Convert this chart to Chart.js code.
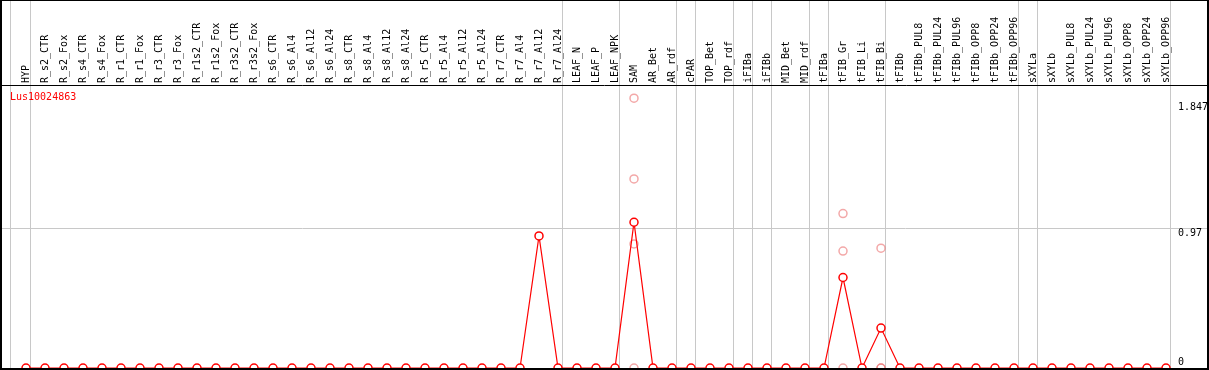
<!DOCTYPE html>
<html>
<head>
<meta charset="utf-8">
<script src="https://cdn.jsdelivr.net/npm/chart.js@4.4.1/dist/chart.umd.min.js"></script>
<style>
  html, body { margin: 0; padding: 0; background: #fff; }
  canvas { display: block; }
</style>
</head>
<body>
<canvas id="chart" width="1209" height="370"></canvas>
<script>
const geneName = 'Lus10024863';

const categories = [
  'HYP', 'R_s2_CTR', 'R_s2_Fox', 'R_s4_CTR', 'R_s4_Fox', 'R_r1_CTR', 'R_r1_Fox', 'R_r3_CTR', 'R_r3_Fox',
  'R_r1s2_CTR', 'R_r1s2_Fox', 'R_r3s2_CTR', 'R_r3s2_Fox', 'R_s6_CTR', 'R_s6_Al4', 'R_s6_Al12', 'R_s6_Al24',
  'R_s8_CTR', 'R_s8_Al4', 'R_s8_Al12', 'R_s8_Al24', 'R_r5_CTR', 'R_r5_Al4', 'R_r5_Al12', 'R_r5_Al24',
  'R_r7_CTR', 'R_r7_Al4', 'R_r7_Al12', 'R_r7_Al24', 'LEAF_N', 'LEAF_P', 'LEAF_NPK', 'SAM', 'AR_Bet', 'AR_rdf',
  'cPAR', 'TOP_Bet', 'TOP_rdf', 'iFIBa', 'iFIBb', 'MID_Bet', 'MID_rdf', 'tFIBa', 'tFIB_Gr', 'tFIB_Li', 'tFIB_Bi',
  'tFIBb', 'tFIBb_PUL8', 'tFIBb_PUL24', 'tFIBb_PUL96', 'tFIBb_OPP8', 'tFIBb_OPP24', 'tFIBb_OPP96',
  'sXYLa', 'sXYLb', 'sXYLb_PUL8', 'sXYLb_PUL24', 'sXYLb_PUL96', 'sXYLb_OPP8', 'sXYLb_OPP24', 'sXYLb_OPP96'
];

// mean expression per sample
const meanValues = [
  0, 0, 0, 0, 0, 0, 0, 0, 0,
  0, 0, 0, 0, 0, 0, 0, 0,
  0, 0, 0, 0, 0, 0, 0, 0,
  0, 0, 0.915, 0, 0, 0, 0, 1.01, 0, 0,
  0, 0, 0, 0, 0, 0, 0, 0, 0.627, 0, 0.277,
  0, 0, 0, 0, 0, 0, 0,
  0, 0, 0, 0, 0, 0, 0, 0
];

// individual replicates (only where they differ from the mean)
const samReps = [1.87, 1.31, 0.86, 0];
const tfibGrReps = [1.07, 0.81, 0];
const tfibBiReps = [0.83, 0, 0];

// last sample of each group -> grey separator after it
const groupEnds = ['HYP', 'R_r7_Al24', 'LEAF_NPK', 'AR_rdf', 'cPAR', 'TOP_rdf', 'iFIBa', 'iFIBb',
  'MID_rdf', 'tFIBa', 'tFIB_Bi', 'tFIBb_OPP96', 'sXYLa', 'sXYLb_OPP96'];

const yTickValues = [0, 0.97, 1.847];

const FONT = 'DejaVu Sans Mono';
const GRID = '#c8c8c8';

const repPoints = [];
[['SAM', samReps], ['tFIB_Gr', tfibGrReps], ['tFIB_Bi', tfibBiReps]].forEach(([name, reps]) => {
  const i = categories.indexOf(name);
  reps.forEach(v => repPoints.push({ x: i, y: v }));
});

const sepValues = [-0.84].concat(groupEnds.map(n => categories.indexOf(n) + 0.24));

new Chart(document.getElementById('chart'), {
  type: 'line',
  data: {
    datasets: [
      {
        label: geneName,
        data: meanValues.map((v, i) => ({ x: i, y: v })),
        borderColor: '#ff0000',
        borderWidth: 1.2,
        pointRadius: 4,
        pointBorderWidth: 1.5,
        pointBorderColor: '#ff0000',
        pointBackgroundColor: '#ffffff',
        tension: 0,
        order: 1
      },
      {
        type: 'scatter',
        label: 'replicates',
        data: repPoints,
        showLine: false,
        pointRadius: 4,
        pointBorderWidth: 1.5,
        pointBorderColor: 'rgba(235,110,110,0.6)',
        pointBackgroundColor: 'rgba(0,0,0,0)',
        order: 2
      }
    ]
  },
  options: {
    responsive: false,
    animation: false,
    devicePixelRatio: 1,
    layout: { autoPadding: false, padding: { left: 1, right: 0, top: 0, bottom: 2 } },
    plugins: { legend: { display: false }, tooltip: { enabled: false } },
    scales: {
      x: {
        type: 'linear',
        position: 'top',
        min: -1.316,
        max: 62.158,
        afterBuildTicks: s => {
          s.ticks = categories.map((c, i) => ({ value: i }))
            .concat(sepValues.map(v => ({ value: v })))
            .sort((a, b) => a.value - b.value);
        },
        afterFit: s => {
          s.height = 85;
          s.paddingLeft = 0;
          s.paddingRight = 0;
        },
        ticks: {
          autoSkip: false,
          minRotation: 90,
          maxRotation: 90,
          padding: -83,
          labelOffset: 12,
          color: '#000',
          font: { family: FONT, size: 10 },
          callback: v => Number.isInteger(v) ? categories[v] : ''
        },
        grid: {
          drawTicks: true,
          tickLength: 85,
          lineWidth: 1,
          color: c => (c.tick && !Number.isInteger(c.tick.value)) ? GRID : 'rgba(0,0,0,0)'
        },
        border: { display: true, color: '#000', width: 1 }
      },
      y: {
        type: 'linear',
        position: 'right',
        min: 0,
        max: 1.961,
        afterBuildTicks: s => {
          // grid line at 0.97, labels sit just below their value (0 just above)
          s.ticks = [{ value: 0.97, txt: '' }].concat(
            yTickValues.map(v => ({ value: v === 0 ? v + 0.042 : v - 0.038, txt: String(v) })));
        },
        afterTickToLabelConversion: s => { s.ticks.forEach(t => { t.label = t.txt; }); },
        afterFit: s => {
          s.width = 2;
          s.paddingTop = 0;
          s.paddingBottom = 0;
        },
        ticks: {
          mirror: true,
          crossAlign: 'far',
          padding: 1,
          color: '#000',
          font: { family: FONT, size: 10 }
        },
        grid: {
          drawTicks: false,
          lineWidth: 1,
          color: c => (c.tick && c.tick.txt === '') ? GRID : 'rgba(0,0,0,0)'
        },
        border: { display: false }
      }
    }
  },
  plugins: [{
    id: 'frameAndName',
    afterDraw(chart) {
      const { ctx, chartArea } = chart;
      ctx.save();
      ctx.fillStyle = '#ff0000';
      ctx.font = '10px "' + FONT + '"';
      ctx.textBaseline = 'middle';
      ctx.fillText(geneName, chartArea.left + 9, chartArea.top + 12);
      ctx.strokeStyle = '#000';
      ctx.lineWidth = 2;
      ctx.strokeRect(1, 0, 1207, 369);
      ctx.restore();
    }
  }]
});
</script>
</body>
</html>
